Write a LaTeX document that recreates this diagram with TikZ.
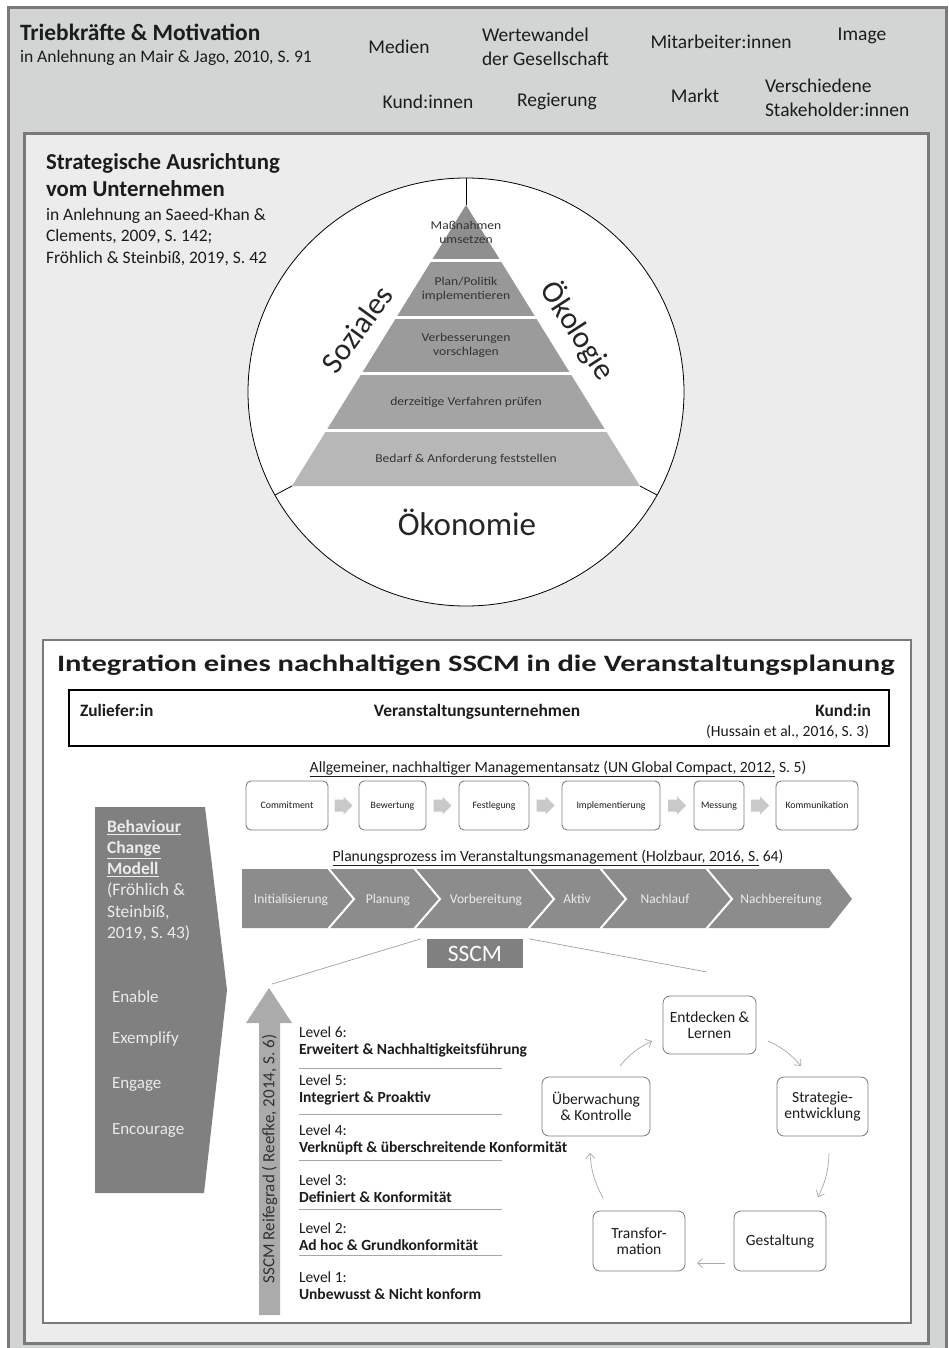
\documentclass[tikz,border=0pt]{standalone}
\usepackage{graphicx}
\usepackage{fontspec}
\setmainfont{Carlito}
\usetikzlibrary{arrows.meta,calc}
\definecolor{hdrfill}{HTML}{D3D5D5}
\definecolor{midfill}{HTML}{ECECEC}
\definecolor{framec}{HTML}{7A7A7A}
\definecolor{darkg}{HTML}{808080}
\definecolor{chev}{HTML}{8C8C8C}
\definecolor{lightarr}{HTML}{C9C9C9}
\definecolor{reife}{HTML}{ABABAB}
\definecolor{txt}{HTML}{1C1C1C}
\definecolor{pa}{HTML}{8F8F8F}
\definecolor{pb}{HTML}{989898}
\definecolor{pc}{HTML}{9B9B9B}
\definecolor{pd}{HTML}{A4A4A4}
\definecolor{pe}{HTML}{B7B7B7}
\definecolor{boxline}{HTML}{7E7E7E}
\definecolor{cycarr}{HTML}{A8A8A8}
\newcommand\fsz[2]{\fontsize{#1pt}{#2pt}\selectfont}
\newcommand\sx[1]{\scalebox{1.13}[1]{#1}}
\begin{document}
\begin{tikzpicture}[x=1pt,y=-1pt,
  lbl/.style={inner sep=0pt,outer sep=0pt,text=txt},
  hdr/.style={lbl,font=\fsz{19.5}{24}},
  ptxt/.style={lbl,font=\fsz{12}{14},align=center,text=black!80},
  mbox/.style={draw=boxline,line width=0.9pt,rounded corners=5pt,fill=white,
    minimum height=49pt,inner sep=0pt,font=\fsz{9.8}{11},text=txt,
    text height=1.6ex,text depth=0.4ex},
  barr/.pic={\fill[lightarr] (-9,-6) -- (0,-6) -- (0,-9) -- (9,0) -- (0,9) -- (0,6) -- (-9,6) -- cycle;},
  chtxt/.style={lbl,font=\fsz{13.5}{15},text=white!92!black,anchor=base},
  bctxt/.style={lbl,font=\fsz{17.5}{21.2},text=white!92!black,align=left,anchor=north west},
  enx/.style={lbl,anchor=west,font=\fsz{17}{19},text=white!92!black},
  lvl/.style={lbl,font=\fsz{15.5}{17},align=left,anchor=west},
  lvline/.style={draw=gray!70,line width=0.8pt},
  cbox/.style={draw=framec,line width=0.8pt,rounded corners=7pt,fill=white,
    align=center,font=\fsz{15.5}{16},inner sep=0pt,text=txt},
  cyc/.style={draw=cycarr,line width=0.7pt,-{Straight Barb[length=5pt,width=9pt]}},
  sline/.style={draw=gray!75,line width=0.7pt}
]
\useasboundingbox (0,0) rectangle (949,1348);
\fill[white] (0,0) rectangle (949,1348);
% outer frame
\draw[framec,line width=3pt,fill=hdrfill] (8,8) rectangle (946,1365);
\draw[framec,line width=3pt,fill=midfill] (24,134) rectangle (928,1343);

% header
\node[lbl,anchor=west,font=\bfseries\fsz{23.4}{26}] (tm) at (20,32) {Triebkräfte \& Motivation};
\node[lbl,anchor=west,font=\fsz{17.6}{20}] (tmc) at (20,58) {in Anlehnung an Mair \& Jago, 2010, S. 91};
\node[hdr] (medien) at (399,47) {Medien};
\node[hdr,anchor=west,align=left] (werte) at (482,47) {Wertewandel\\der Gesellschaft};
\node[hdr] (mitarb) at (721,42) {Mitarbeiter:innen};
\node[hdr] (image) at (862,36) {Image};
\node[hdr] (kund) at (428,102) {Kund:innen};
\node[hdr] (regier) at (557,101) {Regierung};
\node[hdr] (markt) at (695,96) {Markt};
\node[hdr,anchor=west,align=left] (stake) at (765,98) {Verschiedene\\Stakeholder:innen};

% strategic
\node[lbl,anchor=north west,align=left,font=\bfseries\fsz{22.8}{27}] (strat) at (46,154) {Strategische Ausrichtung\\vom Unternehmen};
\node[lbl,anchor=north west,align=left,font=\fsz{17.5}{21.5}] (stratc) at (46,208) {in Anlehnung an Saeed-Khan \&\\Clements, 2009, S. 142;\\Fröhlich \& Steinbiß, 2019, S. 42};

\draw[black,line width=0.8pt,fill=white] (466,392) ellipse [x radius=218, y radius=214];
\coordinate (ctop) at (466,178);
\coordinate (apex) at (466,205);
\coordinate (bl) at (292,486);
\coordinate (br) at (640,486);
\coordinate (cl) at (275,495);
\coordinate (cr) at (657,495);
\fill[pa] (466,205) -- (500.06,260) -- (431.94,260) -- cycle;
\fill[pb] (431.94,260) -- (500.06,260) -- (535.35,317) -- (396.65,317) -- cycle;
\fill[pc] (396.65,317) -- (535.35,317) -- (570,373) -- (362,373) -- cycle;
\fill[pd] (362,373) -- (570,373) -- (605.3,430) -- (326.7,430) -- cycle;
\fill[pe] (326.7,430) -- (605.3,430) -- (640,486) -- (292,486) -- cycle;
\foreach \yy/\hw in {260/34.06,317/69.35,373/104,430/139.3}{
  \draw[white,line width=3pt] (466-\hw-2,\yy) -- (466+\hw+2,\yy);
}
\draw[black,line width=0.8pt] (ctop) -- (apex);
\draw[black,line width=0.8pt] (bl) -- (cl);
\draw[black,line width=0.8pt] (br) -- (cr);
\node[ptxt] (p1) at (466,232) {\sx{Maßnahmen}\\\sx{umsetzen}};
\node[ptxt] (p2) at (466,289) {\sx{Plan/Politik}\\\sx{implementieren}};
\node[ptxt] (p3) at (466,345) {\sx{Verbesserungen}\\\sx{vorschlagen}};
\node[ptxt] (p4) at (466,402) {\sx{derzeitige Verfahren prüfen}};
\node[ptxt] (p5) at (466,459) {\sx{Bedarf \& Anforderung feststellen}};
\node[lbl,font=\fsz{31}{34},rotate=54,text=black!85] (soz) at (357,329) {Soziales};
\node[lbl,font=\fsz{31}{34},rotate=-57,text=black!85] (oek) at (578,331) {Ökologie};
\node[lbl,font=\fsz{33}{36},text=black!85] (oeko) at (467,522) {Ökonomie};

% SSCM box
\draw[framec,line width=2.5pt,fill=white] (43,640) rectangle (911,1323);
\node[lbl,anchor=west,font=\bfseries\fsz{23.5}{26}] (intt) at (57,665) {\scalebox{1.3}[1]{Integration eines nachhaltigen SSCM in die Veranstaltungsplanung}};
\draw[black,line width=1.5pt] (69,690) rectangle (889,746);
\node[lbl,anchor=base west,font=\bfseries\fsz{17.4}{20}] (zul) at (80,716) {Zuliefer:in};
\node[lbl,anchor=base,font=\bfseries\fsz{17.4}{20}] (vu) at (477,716) {Veranstaltungsunternehmen};
\node[lbl,anchor=base east,font=\bfseries\fsz{17.4}{20}] (kd) at (871,716) {Kund:in};
\node[lbl,anchor=base east,font=\fsz{15.6}{18}] (huss) at (869,736) {(Hussain et al., 2016, S. 3)};

\node[lbl,font=\fsz{15.6}{18}] (mgt) at (558,769) {\underline{Allgemeiner, nachhaltiger Managementansatz (UN Global Compact, 2012,} S. 5)};
\node[mbox,minimum width=82pt] (m1) at (287,805.5) {Commitment};
\node[mbox,minimum width=67pt] (m2) at (392.5,805.5) {Bewertung};
\node[mbox,minimum width=70pt] (m3) at (494,805.5) {Festlegung};
\node[mbox,minimum width=98pt] (m4) at (611,805.5) {Implementierung};
\node[mbox,minimum width=50pt] (m5) at (719,805.5) {Messung};
\node[mbox,minimum width=82pt] (m6) at (817,805.5) {Kommunikation};
\foreach \a/\b in {m1/m2,m2/m3,m3/m4,m4/m5,m5/m6}{
  \pic at ($(\a.east)!0.5!(\b.west)$) {barr};
}

\node[lbl,font=\fsz{15.6}{18}] (plan) at (558,858) {\underline{Planungsprozess im Veranstaltungsmanagement (Holzbaur, 2016, S.} 64)};
\fill[chev] (242,869) -- (829,869) -- (852,899) -- (829,928) -- (242,928) -- cycle;
\foreach \xx in {328,414,528,600,706}{
  \draw[white,line width=2pt] (\xx,868) -- (\xx+26,899) -- (\xx,929);
}
\node[chtxt] (c1) at (291,903.5) {Initialisierung};
\node[chtxt] (c2) at (388,903.5) {Planung};
\node[chtxt] (c3) at (486,903.5) {Vorbereitung};
\node[chtxt] (c4) at (577,903.5) {Aktiv};
\node[chtxt] (c5) at (665,903.5) {Nachlauf};
\node[chtxt] (c6) at (781,903.5) {Nachbereitung};

\node[fill=darkg,minimum width=96pt,minimum height=29pt,inner sep=0pt,text=white,font=\fsz{23.5}{25}] (sscm) at (475,953.5) {SSCM};
\coordinate (zl) at (272,984);
\coordinate (zr) at (707,972);
\draw[sline] ($(sscm.north west)+(-6,0)$) -- (zl);
\draw[sline] ($(sscm.north east)+(6,0)$) -- (zr);

% Behaviour change
\fill[darkg] (95,807) -- (205,807) -- (227,990) -- (204,1193) -- (95,1193) -- cycle;
\node[bctxt] (bc) at (107,820) {\textbf{\underline{Behaviour}}\\\textbf{\underline{Change}}\\\textbf{\underline{Modell}}\\(Fröhlich \&\\Steinbiß,\\2019, S. 43)};
\node[enx] (e1) at (112,997) {Enable};
\node[enx] (e2) at (112,1039) {Exemplify};
\node[enx] (e3) at (112,1084) {Engage};
\node[enx] (e4) at (112,1130) {Encourage};

% Reifegrad arrow
\fill[reife] (259,1315) -- (259,1023) -- (246,1023) -- (269,988) -- (292,1023) -- (280,1023) -- (280,1315) -- cycle;
\node[lbl,rotate=90,font=\fsz{17}{18},text=black!80] (rg) at (269.5,1159) {SSCM Reifegrad ( Reefke, 2014, S. 6)};

\node[lvl] (l6) at (299,1042) {Level 6:\\\textbf{Erweitert \& Nachhaltigkeitsführung}};
\node[lvl] (l5) at (299,1090) {Level 5:\\\textbf{Integriert \& Proaktiv}};
\node[lvl] (l4) at (299,1139.5) {Level 4:\\\textbf{Verknüpft \& überschreitende Konformität}};
\node[lvl] (l3) at (299,1188.5) {Level 3:\\\textbf{Definiert \& Konformität}};
\node[lvl] (l2) at (299,1237) {Level 2:\\\textbf{Ad hoc \& Grundkonformität}};
\node[lvl] (l1) at (299,1285.5) {Level 1:\\\textbf{Unbewusst \& Nicht konform}};
\foreach \yy in {1068,1114,1160,1209,1255}{
  \draw[lvline] (299,\yy) -- (502,\yy);
}

% cycle
\node[cbox,minimum width=93pt,minimum height=58pt] (ent) at (709.5,1025) {Entdecken \&\\Lernen};
\node[cbox,minimum width=91pt,minimum height=59pt] (str) at (822.5,1106.5) {Strategie-\\entwicklung};
\node[cbox,minimum width=92pt,minimum height=60pt] (ges) at (780,1241) {Gestaltung};
\node[cbox,minimum width=92pt,minimum height=60pt] (tra) at (639,1241) {Transfor-\\mation};
\node[cbox,minimum width=108pt,minimum height=59pt] (ueb) at (596,1106.5) {Überwachung\\\& Kontrolle};
\coordinate (a1s) at (620,1066); \coordinate (a1e) at (652,1041);
\coordinate (a2s) at (768,1041); \coordinate (a2e) at (801,1066);
\coordinate (a3s) at (829,1153); \coordinate (a3e) at (818,1197);
\coordinate (a4s) at (725,1263); \coordinate (a4e) at (697,1263);
\coordinate (a5s) at (603,1198); \coordinate (a5e) at (590,1153);
\draw[cyc] (a1s) to[bend left=12] (a1e);
\draw[cyc] (a2s) to[bend left=12] (a2e);
\draw[cyc] (a3s) to[bend left=12] (a3e);
\draw[cyc] (a4s) to (a4e);
\draw[cyc] (a5s) to[bend left=12] (a5e);
\end{tikzpicture}
\end{document}
